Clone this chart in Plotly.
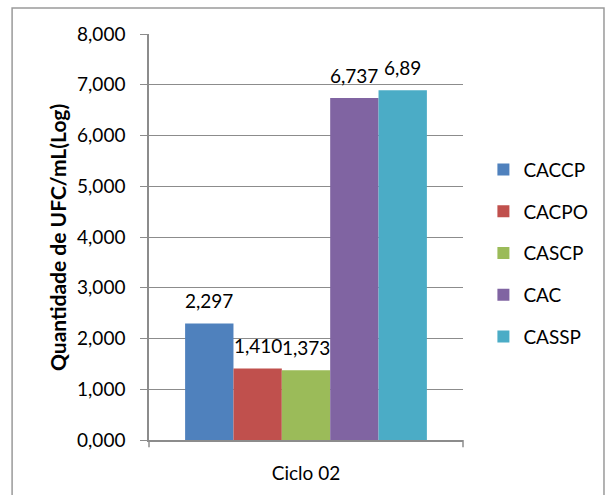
import plotly.graph_objects as go

# Data
category = ["Ciclo 02"]
series_names = ["CACCP", "CACPO", "CASCP", "CAC", "CASSP"]
series_values = [2.297, 1.410, 1.373, 6.737, 6.89]
label_decimals = [3, 3, 3, 3, 2]
series_colors = ["#4F81BD", "#C0504D", "#9BBB59", "#8064A2", "#4BACC6"]
y_ticks = [0, 1, 2, 3, 4, 5, 6, 7, 8]
y_title = "Quantidade de UFC/mL(Log)"

FONT = "Lato, 'Open Sans', sans-serif"
GRID = "#8C8C8C"

W, H = 606, 495
M_L, M_R, M_T, M_B = 149, 143, 34, 55
BARGAP = 0.23
plot_w = W - M_L - M_R
bar_px = plot_w * (1 - BARGAP) / len(series_names)

fig = go.Figure()
annotations = []
n = len(series_names)
for i, (name, val, dec, col) in enumerate(zip(series_names, series_values, label_decimals, series_colors)):
    fig.add_trace(go.Bar(
        x=category, y=[val], name=name,
        marker=dict(color=col, line=dict(width=0)),
        legendgroup=name,
    ))
    # value label floating above each bar
    annotations.append(dict(
        x=category[0], y=val, xref="x", yref="y",
        text=f"{val:.{dec}f}".replace(".", ","),
        showarrow=False, yanchor="bottom", xanchor="center",
        xshift=(i - (n - 1) / 2) * bar_px, yshift=9,
        font=dict(family=FONT, size=19, color="#000000"),
    ))

# vertical y-axis title
annotations.append(dict(
    x=-0.293, y=0.5, xref="paper", yref="paper",
    text=f"<b>{y_title}</b>", textangle=-90,
    showarrow=False, xanchor="center", yanchor="middle",
    font=dict(family=FONT, size=21, color="#000000"),
))

fig.update_layout(
    width=W, height=H,
    margin=dict(l=M_L, r=M_R, t=M_T, b=M_B),
    paper_bgcolor="white", plot_bgcolor="white",
    barmode="group", bargap=BARGAP, bargroupgap=0,
    separators=",.",
    font=dict(family=FONT, size=19, color="#000000"),
    showlegend=True,
    legend=dict(
        x=1.065, y=0.46, xanchor="left", yanchor="middle",
        font=dict(family=FONT, size=19, color="#000000"),
        tracegroupgap=14, itemwidth=30,
        bgcolor="rgba(0,0,0,0)",
    ),
    xaxis=dict(
        showline=True, linecolor=GRID, linewidth=1.5,
        ticks="", showgrid=False, ticklabelstandoff=15,
        tickfont=dict(family=FONT, size=19, color="#000000"),
    ),
    yaxis=dict(
        range=[0, 8], tickvals=y_ticks, tickformat=".3f",
        showline=True, linecolor=GRID, linewidth=1.5,
        showgrid=True, gridcolor=GRID, gridwidth=1.3,
        ticks="outside", ticklen=7, tickcolor=GRID, tickwidth=1.3,
        ticklabelstandoff=11,
        zeroline=False,
        tickfont=dict(family=FONT, size=19, color="#000000"),
    ),
    annotations=annotations,
    shapes=[
        # outer chart frame
        dict(type="rect", xref="paper", yref="paper",
             x0=-0.436, x1=1.449, y0=-0.3, y1=1.064,
             line=dict(color="#9A9A9A", width=1.5), fillcolor="rgba(0,0,0,0)",
             layer="below"),
        # category boundary ticks on the x axis
        dict(type="line", xref="paper", yref="paper", x0=0, x1=0, y0=0, y1=-0.018,
             line=dict(color=GRID, width=1.5)),
        dict(type="line", xref="paper", yref="paper", x0=1, x1=1, y0=0, y1=-0.018,
             line=dict(color=GRID, width=1.5)),
    ],
)

fig.write_html("out.html")
